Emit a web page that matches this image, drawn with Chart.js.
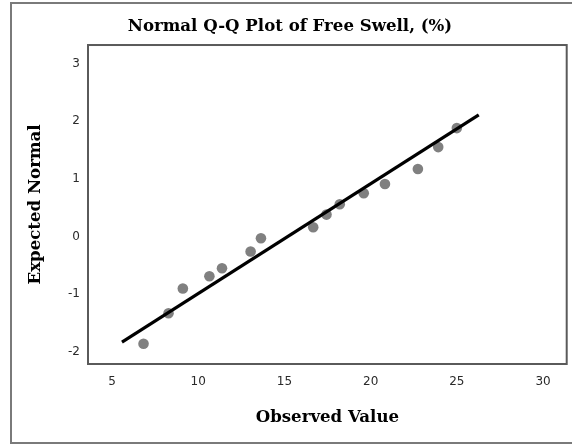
<!DOCTYPE html>
<html>
<head>
<meta charset="utf-8">
<script src="https://cdn.jsdelivr.net/npm/chart.js@4/dist/chart.umd.min.js"></script>
<style>
  html, body { margin: 0; padding: 0; background: #ffffff; }
  #wrap { width: 572px; height: 445px; }
</style>
</head>
<body>
<div id="wrap"><canvas id="c" width="572" height="445"></canvas></div>
<script>
// Observed values (x) and expected normal quantiles (y)
const observedValues = [6.83, 8.28, 9.11, 10.65, 11.38, 13.04, 13.64, 16.67, 17.44, 18.21, 19.60, 20.83, 22.74, 23.92, 25.00];
const expectedNormal = [-1.86, -1.33, -0.90, -0.69, -0.55, -0.26, -0.03, 0.16, 0.38, 0.56, 0.75, 0.91, 1.17, 1.55, 1.88];
// Reference line end points
const lineX = [5.58, 26.27];
const lineY = [-1.83, 2.11];
// Tick labels
const xTicks = [5, 10, 15, 20, 25, 30];
const yTicks = [-2, -1, 0, 1, 2, 3];

const titleText = 'Normal Q-Q Plot of Free Swell, (%)';
const xTitle = 'Observed Value';
const yTitle = 'Expected Normal';

const serifBold = { family: '"DejaVu Serif", serif', size: 16.6, weight: 'bold' };
const tickFont = { family: '"DejaVu Sans", sans-serif', size: 12 };

const framePlugin = {
  id: 'frames',
  beforeDraw(chart) {
    const ctx = chart.ctx;
    ctx.save();
    ctx.fillStyle = '#ffffff';
    ctx.fillRect(0, 0, chart.width, chart.height);
    ctx.strokeStyle = '#7a7a7a';
    ctx.lineWidth = 2;
    ctx.strokeRect(11, 3, chart.width + 20, chart.height - 5);
    ctx.restore();
  },
  beforeDatasetsDraw(chart) {
    const a = chart.chartArea;
    const ctx = chart.ctx;
    ctx.save();
    ctx.strokeStyle = '#5a5a5a';
    ctx.lineWidth = 2;
    ctx.strokeRect(a.left, a.top, a.right - a.left, a.bottom - a.top);
    ctx.restore();
  }
};

new Chart(document.getElementById('c'), {
  type: 'scatter',
  data: {
    datasets: [
      {
        label: 'line',
        data: lineX.map((x, i) => ({ x: x, y: lineY[i] })),
        showLine: true,
        borderColor: '#000000',
        borderWidth: 3.2,
        pointRadius: 0,
        fill: false
      },
      {
        label: 'observed',
        data: observedValues.map((x, i) => ({ x: x, y: expectedNormal[i] })),
        backgroundColor: '#808080',
        borderColor: '#808080',
        borderWidth: 0,
        pointRadius: 5.3
      }
    ]
  },
  options: {
    responsive: false,
    animation: false,
    devicePixelRatio: 1,
    layout: { padding: { left: 12, right: 4, top: 0, bottom: 0 } },
    plugins: {
      legend: { display: false },
      tooltip: { enabled: false },
      title: {
        display: true,
        text: titleText,
        color: '#000000',
        font: serifBold,
        padding: { top: 17, bottom: 8.1 }
      }
    },
    scales: {
      x: {
        type: 'linear',
        min: 3.61,
        max: 31.37,
        afterBuildTicks(axis) { axis.ticks = xTicks.map(v => ({ value: v })); },
        afterFit(axis) { axis.height = 81; },
        grid: { display: false, drawTicks: false },
        border: { display: false },
        ticks: { font: tickFont, color: '#2a2a2a', padding: 11, maxRotation: 0 },
        title: {
          display: true,
          text: xTitle,
          color: '#000000',
          font: serifBold,
          padding: { top: 0, bottom: 17 }
        }
      },
      y: {
        type: 'linear',
        min: -2.21,
        max: 3.32,
        afterBuildTicks(axis) { axis.ticks = yTicks.map(v => ({ value: v })); },
        afterFit(axis) { axis.width = 76; },
        grid: { display: false, drawTicks: false },
        border: { display: false },
        ticks: { font: tickFont, color: '#2a2a2a', padding: 8 },
        title: {
          display: true,
          text: yTitle,
          color: '#000000',
          font: serifBold,
          padding: { top: 14, bottom: 0 }
        }
      }
    }
  },
  plugins: [framePlugin]
});
</script>
</body>
</html>
